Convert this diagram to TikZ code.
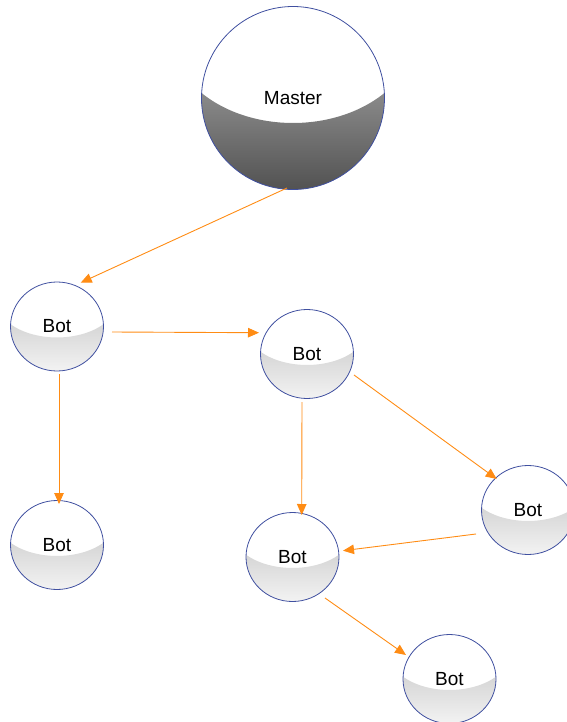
\documentclass[tikz,border=0pt]{standalone}
\usepackage{fontspec}
\setmainfont{Liberation Sans}
\usetikzlibrary{arrows.meta,shapes.geometric,calc}

\definecolor{edge}{RGB}{64,80,160}
\definecolor{link}{RGB}{255,140,20}
\definecolor{botTop}{RGB}{212,212,212}
\definecolor{botBot}{RGB}{246,246,246}
\definecolor{masterTop}{RGB}{140,140,140}
\definecolor{masterBot}{RGB}{80,80,80}

\tikzset{
  bot/.style={ellipse, minimum width=93pt, minimum height=89pt, inner sep=0pt,
    draw=edge, line width=0.8pt, fill=white,
    font=\fontsize{19}{22}\selectfont,
    path picture={
      \coordinate (pc) at (path picture bounding box.center);
      \shade[top color=botTop, bottom color=botBot]
        ($(pc)+(-50pt,5pt)$) .. controls +(25pt,-21.3pt) and +(-25pt,-21.3pt) .. ($(pc)+(50pt,5pt)$)
        -- ($(pc)+(50pt,-50pt)$) -- ($(pc)+(-50pt,-50pt)$) -- cycle;
    }},
  master/.style={circle, minimum size=183pt, inner sep=0pt,
    draw=edge, line width=0.8pt, fill=white,
    font=\fontsize{19}{22}\selectfont,
    path picture={
      \coordinate (pc) at (path picture bounding box.center);
      \shade[top color=masterTop, bottom color=masterBot]
        ($(pc)+(-95pt,8pt)$) .. controls +(50pt,-44pt) and +(-50pt,-44pt) .. ($(pc)+(95pt,8pt)$)
        -- ($(pc)+(95pt,-95pt)$) -- ($(pc)+(-95pt,-95pt)$) -- cycle;
    }},
  link/.style={draw=link, line width=0.9pt, -{Triangle[length=11pt,width=9.5pt]}},
}

\begin{document}
\begin{tikzpicture}[x=1pt,y=-1pt]
  \useasboundingbox (0,0) rectangle (566,722);

  % nodes
  \node[master] (m)  at (293,98)    {Master};
  \node[bot]    (b1) at (57,326.5)  {Bot};
  \node[bot]    (b2) at (307,354)   {Bot};
  \node[bot]    (b3) at (57,545)    {Bot};
  \node[bot]    (b4) at (292.5,557) {Bot};
  \node[bot]    (b5) at (528,510)   {Bot};
  \node[bot]    (b6) at (449.5,679) {Bot};

  % connectors
  \draw[link] ($(m)+(-6,90)$)   -- ($(b1)+(23.7,-43.8)$);
  \draw[link] ($(b1)+(55,5.5)$) -- ($(b2)+(-48,-21.3)$);
  \draw[link] ($(b1)+(2,47.5)$) -- ($(b3)+(2,-41)$);
  \draw[link] ($(b2)+(-5,48)$)  -- ($(b4)+(9.2,-42)$);
  \draw[link] ($(b2)+(47,21)$)  -- ($(b5)+(-31.3,-31)$);
  \draw[link] ($(b5)+(-52,24)$) -- ($(b4)+(50.5,-6.3)$);
  \draw[link] ($(b4)+(32.5,41)$) -- ($(b6)+(-43.5,-24)$);
\end{tikzpicture}
\end{document}
